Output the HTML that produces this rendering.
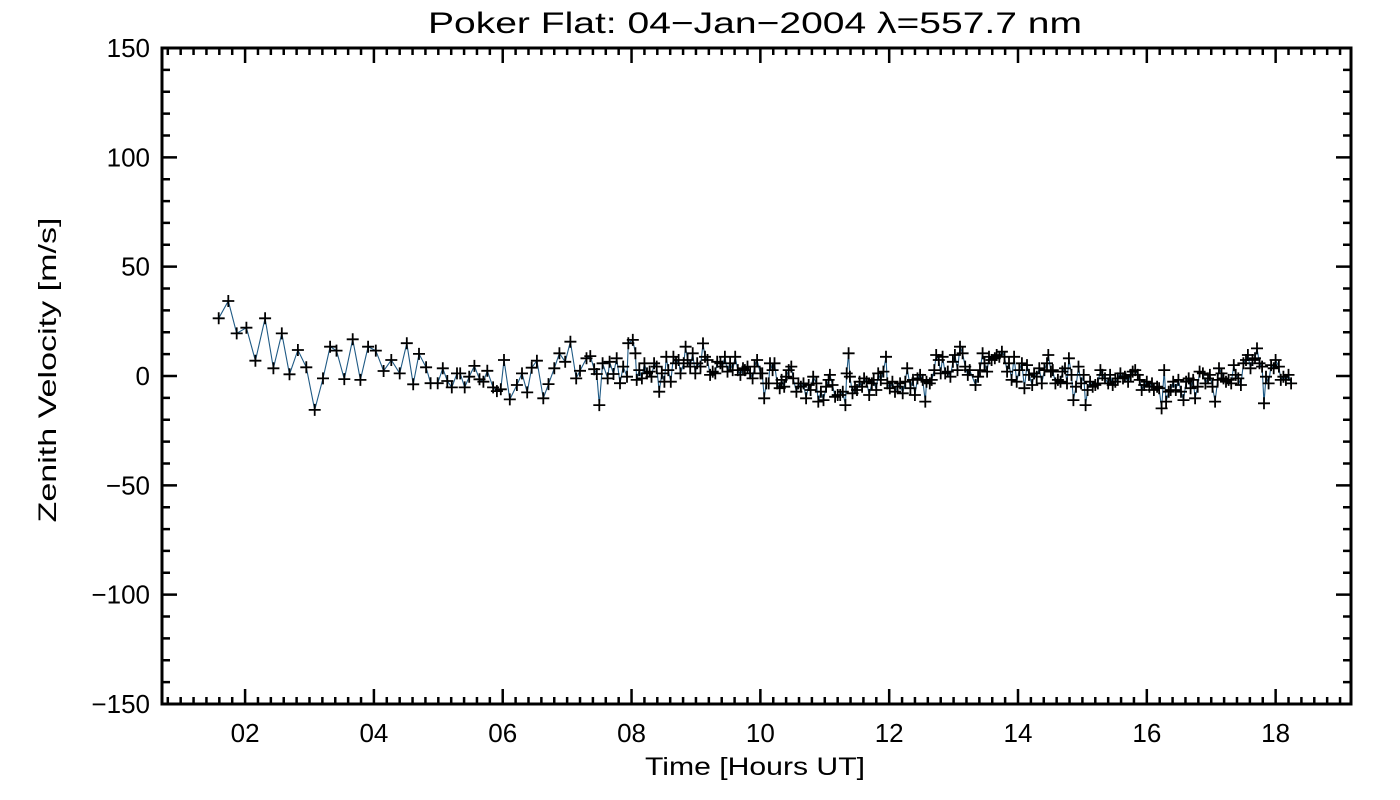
<!DOCTYPE html>
<html><head><meta charset="utf-8">
<style>
html,body{margin:0;padding:0;background:#fff;}
svg{display:block;}
text{font-family:"Liberation Sans",sans-serif;fill:#000;}
</style></head>
<body>
<svg id="chart" width="1400" height="800" viewBox="0 0 1400 800" xmlns="http://www.w3.org/2000/svg">
<text x="428" y="33" font-size="30" textLength="654" lengthAdjust="spacingAndGlyphs">Poker Flat: 04−Jan−2004 λ=557.7 nm</text>
<text x="645" y="775" font-size="25" textLength="220" lengthAdjust="spacingAndGlyphs">Time [Hours UT]</text>
<text x="0" y="0" font-size="25" text-anchor="middle" textLength="305" lengthAdjust="spacingAndGlyphs" transform="translate(56,370) rotate(-90)">Zenith Velocity [m/s]</text>
<g id="ticks"></g>
<g id="labels"></g>
<g id="series"></g>
<rect x="162" y="48" width="1189" height="656" fill="none" stroke="#000" stroke-width="3"/>
</svg>
<script>
const xTickValues=[2,4,6,8,10,12,14,16,18];
const xTickLabels=["02","04","06","08","10","12","14","16","18"];
const yTickValues=[150,100,50,0,-50,-100,-150];
const yTickLabels=["150","100","50","0","−50","−100","−150"];
const times=[1.59,1.74,1.87,2.02,2.16,2.31,2.44,2.57,2.69,2.82,2.95,3.08,3.21,3.32,3.42,3.54,3.67,3.79,3.91,4.03,4.15,4.27,4.40,4.51,4.61,4.70,4.81,4.88,4.99,5.07,5.14,5.21,5.29,5.34,5.41,5.48,5.56,5.64,5.70,5.76,5.85,5.91,5.97,6.02,6.11,6.22,6.30,6.38,6.45,6.53,6.63,6.71,6.80,6.88,6.97,7.05,7.14,7.20,7.30,7.36,7.42,7.46,7.50,7.55,7.63,7.66,7.72,7.77,7.82,7.87,7.93,7.95,
8.02,8.06,8.08,8.12,8.16,8.20,8.24,8.28,8.31,8.35,8.39,8.43,8.47,8.51,8.54,8.57,8.61,8.65,8.69,8.73,8.76,8.81,8.84,8.87,8.91,8.95,8.99,9.02,9.07,9.11,9.14,9.18,9.22,9.26,9.30,9.33,9.38,9.41,9.45,9.49,9.53,9.57,9.61,9.65,9.69,9.73,9.76,9.80,9.84,9.88,9.91,9.95,10.00,10.03,10.06,10.09,10.13,10.15,10.19,10.22,10.26,10.30,10.33,10.37,10.40,10.44,10.48,10.51,10.56,10.59,10.63,10.67,10.71,10.75,10.78,10.82,10.87,10.90,10.94,10.98,11.02,11.06,11.08,11.12,11.16,11.20,11.24,11.28,11.32,11.34,11.37,11.39,11.43,11.47,11.50,11.54,11.58,11.61,11.65,11.69,11.73,11.76,11.80,11.83,11.87,11.91,11.95,11.97,12.01,12.05,12.09,12.13,12.17,12.21,12.25,12.28,12.33,12.37,12.40,12.44,12.48,12.52,12.56,12.58,12.63,12.66,12.70,12.73,12.77,12.80,12.83,12.87,12.91,12.95,12.99,13.02,13.06,13.10,13.14,13.18,13.22,13.25,
13.34,13.38,13.41,13.45,13.48,13.52,13.55,13.59,13.64,13.67,13.71,13.75,13.79,13.83,13.86,13.90,13.94,13.98,14.02,14.06,14.10,14.14,14.17,14.22,14.25,14.29,14.33,14.37,14.41,14.45,14.47,14.51,14.54,14.58,14.62,14.66,14.69,14.73,14.76,14.79,14.83,14.86,14.90,14.94,14.98,15.02,15.05,15.08,15.12,15.16,15.20,15.24,15.28,15.31,15.35,15.40,15.43,15.47,15.51,15.55,15.59,15.63,15.66,15.71,15.75,15.78,15.82,15.86,15.89,15.92,15.96,16.00,16.04,16.08,16.11,16.16,16.19,16.23,16.27,16.30,16.34,16.37,16.41,16.45,16.49,16.53,16.57,16.61,16.65,16.68,16.72,16.75,16.79,16.82,16.87,16.91,16.95,16.98,17.02,17.06,17.10,17.12,17.16,17.19,17.23,17.27,17.31,17.35,17.38,17.42,17.46,17.50,17.54,17.57,17.61,17.64,17.68,17.71,17.75,17.79,17.82,17.85,17.89,17.93,17.97,18.00,18.05,18.08,18.12,18.16,18.20,18.24,18.28,18.32];
const velocities=[26.4,34.3,19.5,22.1,7.0,26.4,3.5,19.5,0.8,11.9,4.0,-15.5,-1.1,13.4,11.6,-1.4,16.8,-1.8,13.4,11.6,2.3,7.3,1.2,15.0,-3.8,10.1,4.0,-3.3,-3.3,3.5,-2.3,-5.2,1.2,1.2,-5.2,-0.3,4.6,-1.5,-2.6,2.4,-5.2,-6.9,-6.1,7.3,-10.7,-4.1,1.2,-7.5,3.8,7.0,-10.2,-3.7,3.5,10.4,6.5,15.7,-1.1,2.4,8.1,9.1,3.1,0.9,-13.3,5.8,-1.1,6.5,0.9,8.1,-3.3,4.3,-0.3,15.0,
16.5,10.4,-1.8,2.7,-1.1,5.8,1.2,2.0,-0.3,5.8,4.3,-7.2,1.2,-2.6,8.8,2.7,-2.6,8.8,5.8,7.3,1.2,5.8,13.4,7.3,4.3,10.4,1.2,5.8,4.3,14.9,8.8,7.3,0.5,2.0,1.2,6.5,5.8,4.3,8.8,2.0,5.8,2.7,8.8,2.7,0.5,3.5,2.7,4.3,1.2,-1.1,4.3,7.3,1.2,1.2,-10.2,-3.4,-3.4,5.8,2.7,5.8,-3.4,-5.6,-1.8,-4.9,-0.3,2.7,4.3,-1.1,-7.2,-3.4,-4.9,-3.4,-10.2,-4.1,-6.4,-0.3,-3.4,-11.7,-7.2,-11.0,-4.9,-1.8,0.5,-4.1,-9.5,-8.7,-8.7,-7.2,-13.3,1.2,10.4,-0.3,-7.9,-4.9,-6.4,-2.6,-4.9,-1.1,-2.6,-8.7,-3.4,-1.8,-6.4,1.2,-1.8,2.0,8.8,-3.4,-5.6,-2.6,-7.2,-4.9,-3.4,-7.9,-2.6,3.5,-5.6,-1.8,-8.7,-1.1,0.5,-1.8,-11.7,-2.6,-3.4,-1.8,2.7,9.6,7.3,1.2,8.8,1.2,2.0,-0.3,6.5,9.6,2.7,13.4,10.4,4.3,0.5,2.7,
-4.1,-0.3,2.7,10.4,5.8,2.0,8.8,7.3,8.1,9.6,8.8,11.1,8.8,2.0,5.8,-1.8,8.8,-2.6,2.7,5.8,-5.6,5.0,0.5,-4.1,1.2,-0.3,3.5,-3.4,2.7,5.8,9.6,2.0,2.7,-3.4,-1.8,-2.6,2.0,3.5,-3.4,8.1,0.5,-11.0,-4.9,4.3,-3.4,0.5,-13.3,-6.4,-2.6,-4.9,-4.1,-3.4,2.7,0.5,-1.1,-3.4,0.5,-4.1,-2.6,-1.1,1.2,-1.1,-0.3,-2.6,0.5,2.0,2.7,0.5,-1.8,-6.4,-4.1,-2.6,-4.9,-3.4,-6.4,-4.9,-5.6,-14.8,2.7,-11.7,-7.2,-6.4,-2.6,-6.4,-1.8,-7.2,-11.0,-2.6,-1.1,-5.6,-1.8,-10.2,-4.9,2.0,1.2,-3.4,-1.1,0.5,-4.9,-11.7,-1.8,3.5,1.2,-1.1,-2.6,-1.8,-3.4,5.0,0.5,-1.1,-4.1,5.8,7.3,9.6,3.5,7.3,8.1,12.6,5.8,4.3,-12.5,-0.3,-3.4,5.0,3.5,7.3,4.3,-1.8,-0.3,-1.8,0.5,-3.4];

const X0=162,X1=1351,Y0=48,Y1=704,XMIN=0.71,XMAX=19.17,YMIN=-150,YMAX=150;
function xs(h){return X0+(h-XMIN)/(XMAX-XMIN)*(X1-X0);}
function ys(v){return Y1-(v-YMIN)/(YMAX-YMIN)*(Y1-Y0);}
const NS="http://www.w3.org/2000/svg";
function mk(tag,attrs,parent){const e=document.createElementNS(NS,tag);for(const k in attrs)e.setAttribute(k,attrs[k]);parent.appendChild(e);return e;}
const tg=document.getElementById('ticks'),lg=document.getElementById('labels'),sg=document.getElementById('series');
let td="";
for(let v=YMIN;v<=YMAX;v+=10){const y=ys(v);const L=(v%50===0)?15:8;td+=`M${X0} ${y}h${L}M${X1} ${y}h${-L}`;}
for(let i=0;;i++){const h=0.8+i*0.2;if(h>XMAX)break;const x=xs(h);const maj=Math.abs(h/2-Math.round(h/2))<1e-6;const L=maj?15:7;td+=`M${x} ${Y1}v${-L}M${x} ${Y0}v${L}`;}
const tp=mk('path',{d:td,stroke:'#000','stroke-width':2.5,fill:'none'},tg);


yTickValues.forEach((v,i)=>{const t=mk('text',{x:150,y:ys(v)+9,'font-size':26,'text-anchor':'end'},lg);t.textContent=yTickLabels[i];

});
xTickValues.forEach((h,i)=>{const t=mk('text',{x:xs(h),y:742,'font-size':26,'text-anchor':'middle'},lg);t.textContent=xTickLabels[i];

});
let ld="";times.forEach((h,i)=>{ld+=(i?'L':'M')+xs(h).toFixed(1)+' '+ys(velocities[i]).toFixed(1);});
const line=mk('path',{d:ld,stroke:'#1f5a85','stroke-width':1.1,fill:'none'},sg);


let md="";times.forEach((h,i)=>{const x=xs(h),y=ys(velocities[i]);md+=`M${(x-6).toFixed(1)} ${y.toFixed(1)}h12M${x.toFixed(1)} ${(y-6).toFixed(1)}v12`;});
const marks=mk('path',{d:md,stroke:'#000','stroke-width':1.8,fill:'none'},sg);


</script>
</body></html>
